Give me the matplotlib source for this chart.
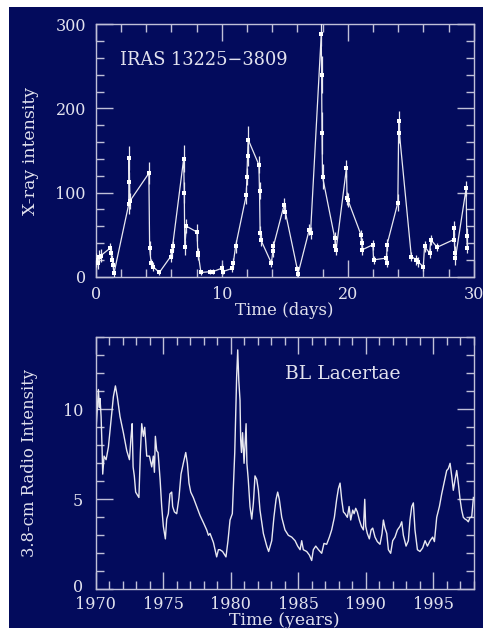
import matplotlib
matplotlib.use("Agg")
import matplotlib.pyplot as plt
import matplotlib.transforms as mtransforms
from matplotlib.patches import Rectangle
from matplotlib.ticker import MultipleLocator

# ---------------- data: X-ray light curve (IRAS 13225-3809) ----------------
xray_t = [0.05, 0.15, 0.25, 0.40, 1.15, 1.22, 1.30, 1.38, 1.45,
          2.62, 2.65, 2.68, 2.72, 4.22, 4.28, 4.40, 4.55, 5.05,
          5.95, 6.02, 6.10, 6.98, 7.03, 7.07, 7.20, 8.05, 8.10, 8.15, 8.35,
          9.10, 9.30, 10.00, 10.08, 10.85, 10.92, 11.10,
          11.95, 12.00, 12.05, 12.10, 12.95, 13.00, 13.05, 13.10,
          13.95, 14.05, 14.10, 14.95, 15.05, 16.00, 16.05, 16.95, 17.05,
          17.90, 17.93, 17.96, 18.00, 18.97, 19.03, 19.08,
          19.90, 19.95, 20.02, 21.05, 21.10, 21.15, 22.00, 22.05,
          23.00, 23.08, 23.12, 23.98, 24.05, 24.10, 25.05, 25.45, 25.55,
          26.00, 26.10, 26.50, 26.60, 27.10, 28.40, 28.45, 28.50, 28.55,
          29.40, 29.45, 29.50]
xray_i = [20, 16, 24, 25, 34, 28, 20, 14, 4,
          86, 141, 113, 90, 123, 34, 16, 12, 5,
          24, 30, 36, 140, 100, 35, 60, 53, 28, 26, 5,
          6, 6, 10, 6, 10, 16, 36,
          97, 119, 143, 163, 133, 102, 52, 44,
          16, 30, 36, 85, 77, 9, 3, 56, 52,
          288, 240, 171, 119, 46, 36, 32,
          129, 93, 91, 50, 40, 32, 38, 20,
          22, 16, 38, 88, 185, 171, 24, 20, 18,
          12, 36, 28, 44, 35, 44, 58, 28, 22,
          105, 48, 34]
xray_err = [8, 7, 8, 8, 6, 6, 6, 5, 4,
            12, 14, 12, 10, 13, 8, 5, 5, 3,
            6, 6, 6, 16, 12, 9, 8, 10, 6, 6, 3,
            3, 3, 5, 3, 4, 6, 8,
            10, 10, 12, 16, 10, 10, 8, 7,
            5, 6, 6, 8, 8, 4, 3, 7, 7,
            14, 22, 25, 15, 7, 6, 6,
            10, 8, 8, 6, 6, 6, 6, 5,
            6, 5, 7, 10, 12, 12, 5, 6, 6,
            5, 7, 6, 6, 5, 8, 8, 8, 8,
            9, 10, 6]

# ---------------- data: radio light curve (BL Lacertae) ----------------
radio_year = [1970.00, 1970.12, 1970.20, 1970.27, 1970.32, 1970.40, 1970.47, 1970.52,
              1970.62, 1970.77, 1970.94, 1971.14, 1971.31, 1971.46, 1971.60, 1971.80,
              1972.05, 1972.30, 1972.50, 1972.62, 1972.70, 1972.77, 1972.86, 1972.96,
              1973.20, 1973.31, 1973.41, 1973.53, 1973.63, 1973.78, 1973.98, 1974.15,
              1974.27, 1974.35, 1974.42, 1974.52, 1974.62, 1974.77, 1974.89, 1975.01,
              1975.16, 1975.26, 1975.38, 1975.50, 1975.63, 1975.70, 1975.83, 1976.00,
              1976.17, 1976.32, 1976.49, 1976.67, 1976.79, 1976.91, 1977.04, 1977.23,
              1977.48, 1977.73, 1977.98, 1978.22, 1978.35, 1978.47, 1978.72, 1978.96,
              1979.09, 1979.20, 1979.40, 1979.65, 1979.80, 1979.95, 1980.12, 1980.20,
              1980.30, 1980.37, 1980.44, 1980.52, 1980.60, 1980.69, 1980.74, 1980.80,
              1980.88, 1980.99, 1981.09, 1981.14, 1981.20, 1981.30, 1981.43, 1981.56,
              1981.68, 1981.80, 1981.93, 1982.05, 1982.17, 1982.42, 1982.67, 1982.81,
              1983.04, 1983.20, 1983.36, 1983.48, 1983.60, 1983.78, 1984.02, 1984.27,
              1984.52, 1984.77, 1984.96, 1985.14, 1985.26, 1985.38, 1985.63, 1985.83,
              1986.00, 1986.12, 1986.30, 1986.50, 1986.74, 1986.91, 1987.11, 1987.31,
              1987.48, 1987.68, 1987.85, 1987.98, 1988.10, 1988.22, 1988.35, 1988.47,
              1988.64, 1988.77, 1988.89, 1989.04, 1989.14, 1989.26, 1989.38, 1989.53,
              1989.68, 1989.83, 1989.93, 1990.00, 1990.12, 1990.27, 1990.40, 1990.52,
              1990.69, 1990.86, 1991.06, 1991.21, 1991.31, 1991.43, 1991.56, 1991.68,
              1991.85, 1992.00, 1992.17, 1992.35, 1992.54, 1992.67, 1992.79, 1992.99,
              1993.16, 1993.28, 1993.41, 1993.53, 1993.65, 1993.83, 1994.02, 1994.22,
              1994.40, 1994.57, 1994.77, 1994.96, 1995.09, 1995.26, 1995.46, 1995.63,
              1995.80, 1996.00, 1996.12, 1996.25, 1996.37, 1996.49, 1996.62, 1996.74,
              1996.86, 1996.99, 1997.11, 1997.23, 1997.36, 1997.48, 1997.60, 1997.73,
              1997.85, 1997.98]
radio_flux = [8.5, 10.0, 11.1, 10.1, 10.6, 9.6, 7.9, 6.4,
              7.4, 7.2, 7.9, 9.4, 10.7, 11.3, 10.7, 9.6,
              8.7, 7.7, 7.2, 8.5, 9.2, 6.8, 6.3, 5.4,
              5.1, 7.6, 9.2, 8.5, 9.0, 7.4, 7.4, 6.8,
              7.4, 6.5, 8.5, 7.7, 7.6, 6.1, 4.6, 3.5,
              2.8, 3.9, 4.2, 5.3, 5.4, 4.6, 4.3, 4.2,
              5.1, 6.4, 7.0, 7.6, 7.0, 5.9, 5.4, 5.1,
              4.6, 4.1, 3.7, 3.3, 3.0, 3.1, 2.6, 1.8,
              2.2, 2.2, 2.1, 1.8, 2.7, 3.85, 4.2, 5.7,
              7.6, 9.6, 11.8, 13.3, 11.6, 10.5, 8.3, 7.6,
              8.7, 7.0, 8.5, 9.2, 7.0, 6.1, 4.6, 3.9,
              4.8, 6.3, 6.1, 5.5, 4.4, 3.1, 2.4, 2.1,
              2.7, 4.0, 5.0, 5.4, 5.0, 4.0, 3.3, 3.0,
              2.9, 2.7, 2.4, 2.2, 2.7, 2.2, 2.1, 1.9,
              1.6, 2.2, 2.4, 2.2, 2.0, 2.55, 2.5, 2.9,
              3.3, 4.0, 5.0, 5.6, 5.9, 5.0, 4.3, 4.2,
              4.0, 4.6, 3.85, 4.4, 4.2, 4.5, 4.3, 3.85,
              3.5, 3.3, 5.0, 3.5, 3.1, 2.8, 3.3, 3.4,
              2.9, 2.65, 2.5, 3.1, 3.85, 3.4, 3.1, 2.2,
              2.0, 2.7, 2.9, 3.3, 3.5, 3.75, 3.0, 2.4,
              2.7, 3.85, 4.6, 4.8, 3.3, 2.2, 2.1, 2.3,
              2.7, 2.4, 2.7, 2.9, 2.65, 4.0, 4.6, 5.3,
              5.9, 6.6, 6.7, 7.0, 6.3, 5.5, 6.1, 6.6,
              5.9, 5.0, 4.4, 4.0, 3.9, 3.85, 3.75, 4.0,
              4.0, 5.1]

xray_label_text = "IRAS 13225\u22123809"
radio_label_text = "BL Lacertae"

# ---------------- style ----------------
BG = "#030b5c"
FG = "#e2e2ee"
AX = "#c0c0d8"
LINE = "#e8e8f0"
FONT = "DejaVu Serif"

plt.rcParams["font.family"] = FONT

fig = plt.figure(figsize=(4.83, 6.29), dpi=100)
fig.patch.set_facecolor("white")
fig.patches.append(Rectangle((9 / 483, 1 / 629), 1 - 9 / 483, 1 - 8 / 629,
                             transform=fig.transFigure, facecolor=BG,
                             edgecolor="none", zorder=-10))

ax1 = fig.add_axes([95.7 / 483, (629 - 276.7) / 629, 378 / 483, 252.4 / 629])
ax2 = fig.add_axes([95.7 / 483, (629 - 589.3) / 629, 378 / 483, 252 / 629])


def style(ax, xpad, ypad):
    ax.set_facecolor(BG)
    for s in ax.spines.values():
        s.set_color(AX)
        s.set_linewidth(1.0)
    ax.tick_params(which="both", direction="in", top=True, right=True,
                   colors=AX, labelcolor=FG, labelsize=11.5)
    ax.tick_params(axis="y", pad=ypad)
    ax.tick_params(axis="x", pad=xpad)
    ax.tick_params(which="major", length=12.5, width=1.0)
    ax.tick_params(which="minor", length=6, width=1.0)


style(ax1, 7, 7)
ax1.errorbar(xray_t, xray_i, yerr=xray_err, fmt="s", ms=3.2, color="white",
             ecolor=LINE, elinewidth=0.9, capsize=2.5, capthick=0.9,
             markeredgewidth=0, zorder=3)
ax1.plot(xray_t, xray_i, color=LINE, lw=0.9, zorder=2)
ax1.set_xlim(0, 30)
ax1.set_ylim(0, 300)
ax1.xaxis.set_major_locator(MultipleLocator(10))
ax1.xaxis.set_minor_locator(MultipleLocator(2))
ax1.yaxis.set_major_locator(MultipleLocator(100))
ax1.yaxis.set_minor_locator(MultipleLocator(20))
ax1.set_xlabel("Time (days)", color=FG, fontsize=12, labelpad=-1)
ax1.set_ylabel("X-ray intensity", color=FG, fontsize=12.5, labelpad=12)
ax1.text(0.065, 0.86, xray_label_text, transform=ax1.transAxes, color=FG,
         fontsize=12.8, va="center", ha="left")

style(ax2, 5, 9)
ax2.plot(radio_year, radio_flux, color=LINE, lw=1.0)
ax2.set_xlim(1970, 1998)
ax2.set_ylim(0, 14)
ax2.xaxis.set_major_locator(MultipleLocator(5))
ax2.xaxis.set_minor_locator(MultipleLocator(1))
ax2.yaxis.set_major_locator(MultipleLocator(5))
ax2.yaxis.set_minor_locator(MultipleLocator(1))
ax2.set_xlabel("Time (years)", color=FG, fontsize=12.5, labelpad=-1)
ax2.set_ylabel("3.8-cm Radio Intensity", color=FG, fontsize=11.8, labelpad=18)

fig.canvas.draw()
# lift the y-axis "0" label a few pixels so it clears the first year label
shift = mtransforms.ScaledTranslation(0, 3 / 72, fig.dpi_scale_trans)
for lab in ax2.get_yticklabels():
    if lab.get_text() == "0":
        lab.set_transform(lab.get_transform() + shift)

ax2.text(0.50, 0.855, radio_label_text, transform=ax2.transAxes, color=FG,
         fontsize=13.5, va="center", ha="left")

fig.savefig("out.png", dpi=100, facecolor=fig.get_facecolor())
